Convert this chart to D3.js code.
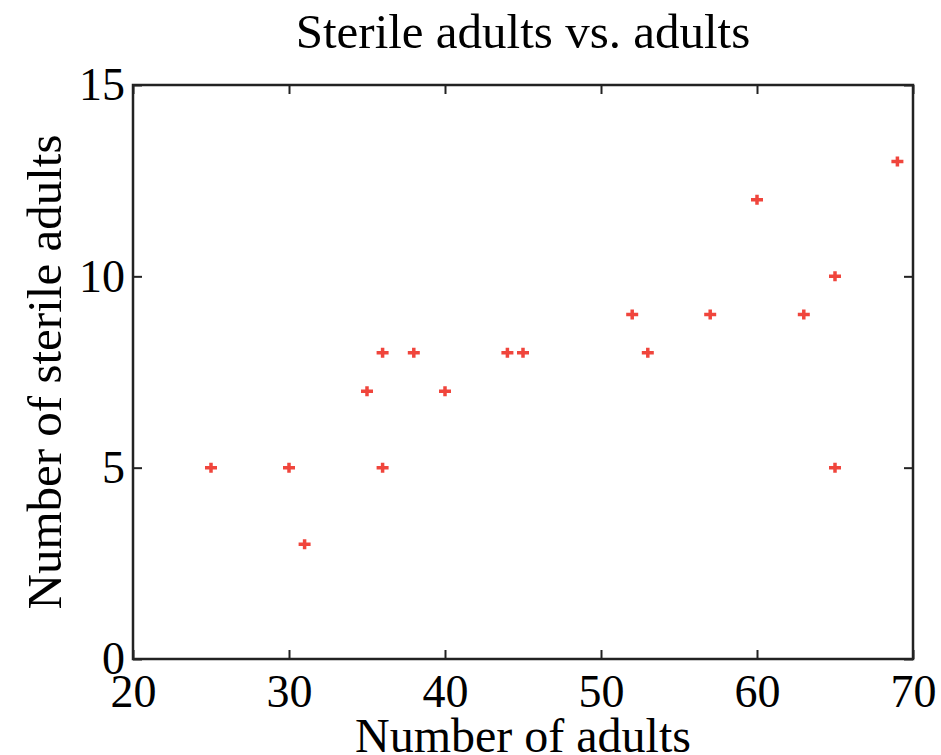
<!DOCTYPE html>
<html>
<head>
<meta charset="utf-8">
<script src="https://cdn.jsdelivr.net/npm/d3@7"></script>
<style>
  body { margin: 0; background: #fff; }
  text { font-family: "Liberation Serif", "Times New Roman", serif; fill: #000; }
</style>
</head>
<body>
<div id="chart"></div>
<script>
// Data
const adults = [25, 30, 31, 35, 36, 36, 38, 40, 44, 45, 52, 53, 57, 60, 63, 65, 65, 69];
const sterileAdults = [5, 5, 3, 7, 8, 5, 8, 7, 8, 8, 9, 8, 9, 12, 9, 10, 5, 13];
const xTicks = [20, 30, 40, 50, 60, 70];
const yTicks = [0, 5, 10, 15];

let margin = {top: 85, right: 28, bottom: 96, left: 133};
let width = 941 - margin.left - margin.right;
let height = 755 - margin.top - margin.bottom;

let svg = d3.select("#chart")
    .append("svg")
    .attr("width", 941)
    .attr("height", 755);

let g = svg.append("g")
    .attr("transform", `translate(${margin.left}, ${margin.top})`);

const x = d3.scaleLinear().domain([20, 70]).range([0, width]);
const y = d3.scaleLinear().domain([0, 15]).range([height, 0]);

// Inward ticks on all four sides, MATLAB style
const tickLen = 9;
g.append("g")
    .attr("transform", `translate(0, ${height})`)
    .call(d3.axisBottom(x).tickValues(xTicks).tickSizeInner(-tickLen).tickSizeOuter(0).tickPadding(15))
    .call(a => a.select(".domain").remove())
    .selectAll("text").style("font-size", "46px");

g.append("g")
    .call(d3.axisTop(x).tickValues(xTicks).tickSizeInner(-tickLen).tickSizeOuter(0))
    .call(a => a.select(".domain").remove())
    .selectAll("text").remove();

g.append("g")
    .call(d3.axisLeft(y).tickValues(yTicks).tickSizeInner(-tickLen).tickSizeOuter(0).tickPadding(8))
    .call(a => a.select(".domain").remove())
    .selectAll("text").style("font-size", "46px");

g.append("g")
    .attr("transform", `translate(${width}, 0)`)
    .call(d3.axisRight(y).tickValues(yTicks).tickSizeInner(-tickLen).tickSizeOuter(0))
    .call(a => a.select(".domain").remove())
    .selectAll("text").remove();

g.selectAll(".tick line").attr("stroke", "#222").attr("stroke-width", 2);

// Box
g.append("rect")
    .attr("width", width)
    .attr("height", height)
    .attr("fill", "none")
    .attr("stroke", "#222")
    .attr("stroke-width", 2.5);

// Plus markers
const pts = adults.map((a, i) => ({x: a, y: sterileAdults[i]}));
g.selectAll(".pt")
    .data(pts)
    .enter()
    .append("path")
    .attr("class", "pt")
    .attr("transform", d => `translate(${x(d.x)}, ${y(d.y)})`)
    .attr("d", "M-6,0H6M0,-5V5")
    .attr("stroke", "#f0453c")
    .attr("stroke-width", 3.5);

// Title and axis labels
svg.append("text")
    .attr("x", margin.left + width / 2)
    .attr("y", 48)
    .style("text-anchor", "middle")
    .style("font-size", "49px")
    .text("Sterile adults vs. adults");

svg.append("text")
    .attr("x", margin.left + width / 2)
    .attr("y", 752)
    .style("text-anchor", "middle")
    .style("font-size", "48px")
    .text("Number of adults");

svg.append("text")
    .attr("transform", `translate(61, ${margin.top + height / 2}) rotate(-90)`)
    .style("text-anchor", "middle")
    .style("font-size", "49px")
    .text("Number of sterile adults");
</script>
</body>
</html>
